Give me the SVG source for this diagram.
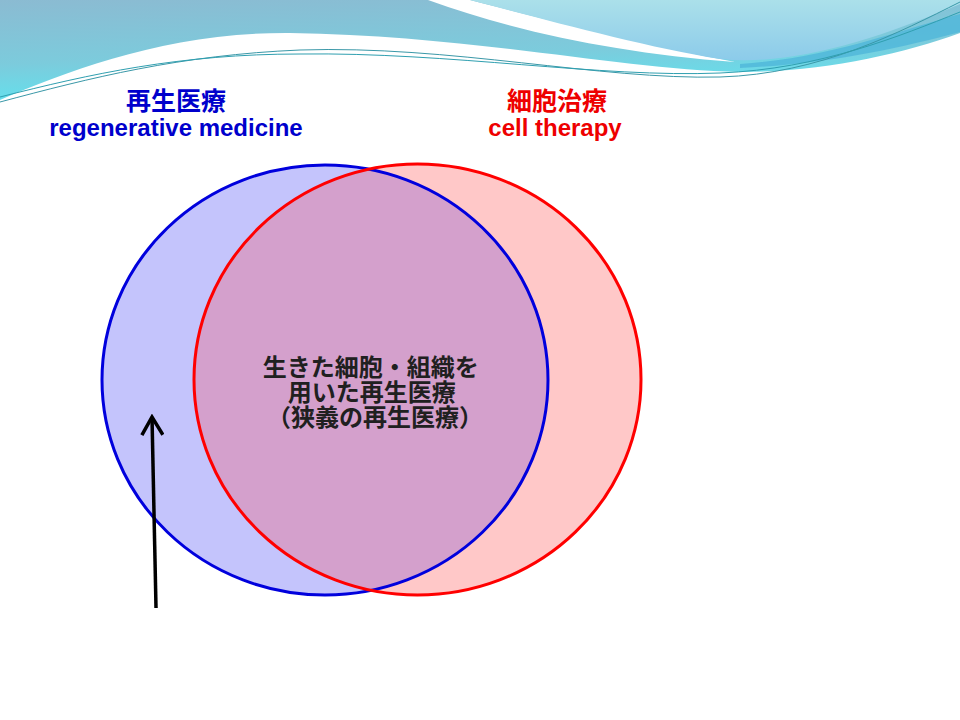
<svg xmlns="http://www.w3.org/2000/svg" width="960" height="720" viewBox="0 0 960 720">
  <defs>
    <linearGradient id="teal" x1="0" y1="0" x2="0.25" y2="1">
      <stop offset="0" stop-color="#8bbbd2"/>
      <stop offset="0.6" stop-color="#7ccbdc"/>
      <stop offset="1" stop-color="#62e2ee"/>
    </linearGradient>
    <linearGradient id="light" x1="0" y1="0" x2="0" y2="1">
      <stop offset="0" stop-color="#abe0ea"/>
      <stop offset="1" stop-color="#8ccbea"/>
    </linearGradient>
    <clipPath id="redClip">
      <ellipse cx="417.5" cy="379.5" rx="223.5" ry="215.5"/>
    </clipPath>
    <marker id="openArrow" viewBox="0 0 24 24" markerWidth="24" markerHeight="24" refX="21" refY="12" orient="auto" markerUnits="userSpaceOnUse">
      <path d="M3,1.5 L21,12 L3,22.5" fill="none" stroke="#000" stroke-width="3.5"/>
    </marker>
    <style>
      .cjk { font-family: "Liberation Sans", "Noto Sans CJK JP", sans-serif; font-weight: bold; }
      .lat { font-family: "Liberation Sans", Arial, sans-serif; font-weight: bold; }
      .blue { fill: #0000cc; }
      .red { fill: #ee0000; }
      .center { fill: #202020; font-size: 24px; }
    </style>
  </defs>

  <rect width="960" height="720" fill="#ffffff"/>

  <!-- decorative header wave -->
  <g id="header">
    <path d="M0,0 H960 V33 C900,55 820,72 740,72 C620,70 480,36 290,33 C170,32 70,70 0,100 Z" fill="url(#teal)"/>
    <path d="M428,0 C520,33 620,53 735,62 C640,44 540,18 470,0 Z" fill="#ffffff"/>
    <path d="M470,0 C540,18 640,46 720,59 C790,66 870,42 960,4 V0 Z" fill="url(#light)"/>
    <path d="M740,64 C830,58 900,30 960,14 V32 C900,48 830,64 740,68 Z" fill="#4fb6da" opacity="0.8"/>
    <path d="M0,102 C90,78 180,55 300,50 C450,45 600,80 720,77 C820,74 900,32 960,2" fill="none" stroke="#3a98a8" stroke-width="1"/>
    <path d="M0,97 C90,74 180,54 300,54 C450,52 600,78 720,73 C820,69 900,36 960,12" fill="none" stroke="#2f9fb0" stroke-width="1"/>
  </g>

  <!-- node: regenerative medicine -->
  <g id="regenerative-medicine">
    <ellipse cx="325" cy="380" rx="223" ry="215" fill="#c4c4fc"/>
    <text class="cjk blue" x="176" y="110" font-size="25" text-anchor="middle">再生医療</text>
    <text class="lat blue" x="176" y="136" font-size="24" text-anchor="middle">regenerative medicine</text>
  </g>

  <!-- node: cell therapy -->
  <g id="cell-therapy">
    <ellipse cx="417.5" cy="379.5" rx="223.5" ry="215.5" fill="#ffc8c8"/>
    <text class="cjk red" x="557" y="110" font-size="25" text-anchor="middle">細胞治療</text>
    <text class="lat red" x="555" y="136" font-size="24" text-anchor="middle">cell therapy</text>
  </g>

  <!-- node: overlap -->
  <g id="overlap">
    <ellipse cx="325" cy="380" rx="223" ry="215" fill="#d4a0cc" clip-path="url(#redClip)"/>
    <text class="cjk center" text-anchor="middle">
      <tspan x="374" y="376">生きた細胞・組織を</tspan>
      <tspan x="375" y="401">用いた再生医療</tspan>
      <tspan x="375" y="426">（狭義の再生医療）</tspan>
    </text>
  </g>

  <!-- outlines -->
  <g id="outlines" fill="none" stroke-width="3">
    <ellipse cx="325" cy="380" rx="223" ry="215" stroke="#0000dd"/>
    <ellipse cx="417.5" cy="379.5" rx="223.5" ry="215.5" stroke="#ff0000"/>
  </g>

  <!-- connectors -->
  <g id="connectors">
    <line x1="156" y1="608" x2="152" y2="417" stroke="#000" stroke-width="3.5" marker-end="url(#openArrow)"/>
  </g>
</svg>
